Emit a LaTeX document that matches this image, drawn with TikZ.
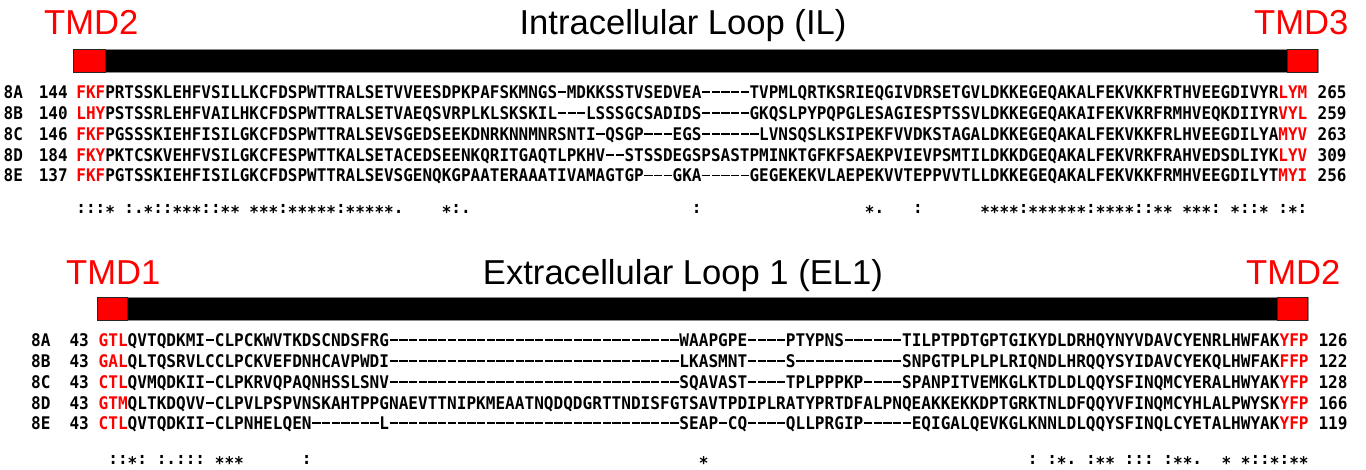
\documentclass[tikz,border=0pt]{standalone}
\usepackage{fontspec}
\setmainfont{Liberation Sans}
% residue font: narrow monospaced bold, one width per panel
\newfontfamily\seqfontIL[FakeStretch=0.918]{DejaVu Sans Mono Bold}
\newfontfamily\seqfontEL[FakeStretch=0.924]{DejaVu Sans Mono Bold}
\newcommand\seqsize{\fontsize{17.4pt}{20pt}\selectfont}
\newcommand\headsize{\fontsize{34.6pt}{40pt}\selectfont}
\newlength\alncolw

% Typeset an alignment string column by column:
%   -  gap (drawn as a full-cell dash),  *  lowered asterisk,  _  empty column
\ExplSyntaxOn
\cs_new_protected:Npn \aln_chars:n #1
  {
    \settowidth{\alncolw}{M}
    \tl_map_inline:nn {#1}
      {
        \str_case:nnF {##1}
          {
            {-} { \makebox[\alncolw][c]{\rule[0.32em]{0.86\alncolw}{0.11em}} }
            {*} { \raisebox{-0.27em}[0.5em][0pt]{*} }
            {_} { \hspace*{\alncolw} }
          }
          {##1}
      }
  }
\NewDocumentCommand \alnchars { m } { \aln_chars:n {#1} }
\ExplSyntaxOff
\newcommand\alnrow[3]{\textcolor{red}{\alnchars{#1}}\alnchars{#2}\textcolor{red}{\alnchars{#3}}}

\begin{document}
\begin{tikzpicture}[x=1pt,y=-1pt,
  seqrow/.style={inner sep=0pt, anchor=base west},
  rowlab/.style={inner sep=0pt, anchor=base},
  endnum/.style={inner sep=0pt, anchor=base west},
  ilfont/.style={font=\seqfontIL\seqsize},
  elfont/.style={font=\seqfontEL\seqsize},
  tmdlab/.style={inner sep=0pt, anchor=base west, text=red, font=\headsize},
  looptitle/.style={inner sep=0pt, anchor=base, font=\headsize},
  loopbar/.style={fill=black, draw=black!45, line width=0.8pt},
  tmdbox/.style={fill=red, draw=black!85, line width=0.8pt}]
\useasboundingbox (0,0) rectangle (1366,470);

% ---------------- Intracellular loop (IL) ----------------
\node[tmdlab] (tmdA) at (44,35) {TMD2};
\node[looptitle] (titleIL) at (683,35) {Intracellular Loop (IL)};
\node[tmdlab] (tmdB) at (1254,35) {TMD3};
\draw[loopbar] (73,49) rectangle (1318,72);
\draw[tmdbox] (73,49) rectangle (105,72);
\draw[tmdbox] (1287,49) rectangle (1317.5,72);

\begin{scope}[every node/.append style={ilfont}]
\node[rowlab] (ilAname) at (13.3,98.8) {8A};
\node[rowlab] (ilAstart) at (53.3,98.8) {144};
\node[seqrow] (ilAseq) at (76.2,98.8) {\alnrow{FKF}{PRTSSKLEHFVSILLKCFDSPWTTRALSETVVEESDPKPAFSKMNGS-MDKKSSTVSEDVEA-----TVPMLQRTKSRIEQGIVDRSETGVLDKKEGEQAKALFEKVKKFRTHVEEGDIVYR}{LYM}};
\node[endnum] (ilAend) at (1317.5,98.8) {265};

\node[rowlab] (ilBname) at (13.3,119.6) {8B};
\node[rowlab] (ilBstart) at (53.3,119.6) {140};
\node[seqrow] (ilBseq) at (76.2,119.6) {\alnrow{LHY}{PSTSSRLEHFVAILHKCFDSPWTTRALSETVAEQSVRPLKLSKSKIL---LSSSGCSADIDS-----GKQSLPYPQPGLESAGIESPTSSVLDKKEGEQAKAIFEKVKRFRMHVEQKDIIYR}{VYL}};
\node[endnum] (ilBend) at (1317.5,119.6) {259};

\node[rowlab] (ilCname) at (13.3,140.4) {8C};
\node[rowlab] (ilCstart) at (53.3,140.4) {146};
\node[seqrow] (ilCseq) at (76.2,140.4) {\alnrow{FKF}{PGSSSKIEHFISILGKCFDSPWTTRALSEVSGEDSEEKDNRKNNMNRSNTI-QSGP---EGS------LVNSQSLKSIPEKFVVDKSTAGALDKKEGEQAKALFEKVKKFRLHVEEGDILYA}{MYV}};
\node[endnum] (ilCend) at (1317.5,140.4) {263};

\node[rowlab] (ilDname) at (13.3,161.2) {8D};
\node[rowlab] (ilDstart) at (53.3,161.2) {184};
\node[seqrow] (ilDseq) at (76.2,161.2) {\alnrow{FKY}{PKTCSKVEHFVSILGKCFESPWTTKALSETACEDSEENKQRITGAQTLPKHV--STSSDEGSPSASTPMINKTGFKFSAEKPVIEVPSMTILDKKDGEQAKALFEKVRKFRAHVEDSDLIYK}{LYV}};
\node[endnum] (ilDend) at (1317.5,161.2) {309};

\node[rowlab] (ilEname) at (13.3,182) {8E};
\node[rowlab] (ilEstart) at (53.3,182) {137};
\node[seqrow] (ilEseq) at (76.2,182) {\alnrow{FKF}{PGTSSKIEHFISILGKCFDSPWTTRALSEVSGENQKGPAATERAAATIVAMAGTGP---GKA-----GEGEKEKVLAEPEKVVTEPPVVTLLDKKEGEQAKALFEKVKKFRMHVEEGDILYT}{MYI}};
\node[endnum] (ilEend) at (1317.5,182) {256};

\node[seqrow] (ilcons) at (76.2,214) {\alnchars{:::*_:.*::***::**_***:*****:*****.____*:._______________________:_________________*.___:______****:******:****::**_***:_*::*_:*:}};
\end{scope}

% ---------------- Extracellular loop 1 (EL1) ----------------
\node[tmdlab] (tmdC) at (66,285) {TMD1};
\node[looptitle] (titleEL) at (683,285) {Extracellular Loop 1 (EL1)};
\node[tmdlab] (tmdD) at (1246,284.5) {TMD2};
\draw[loopbar] (97,297.3) rectangle (1308.3,320);
\draw[tmdbox] (97,297.3) rectangle (127.7,320);
\draw[tmdbox] (1277.7,297.3) rectangle (1307.5,320);

\begin{scope}[every node/.append style={elfont}]
\node[rowlab] (elAname) at (40.8,346.7) {8A};
\node[rowlab] (elAstart) at (79.2,346.7) {43};
\node[seqrow] (elAseq) at (98.5,346.7) {\alnrow{GTL}{QVTQDKMI-CLPCKWVTKDSCNDSFRG------------------------------WAAPGPE----PTYPNS------TILPTPDTGPTGIKYDLDRHQYNYVDAVCYENRLHWFAK}{YFP}};
\node[endnum] (elAend) at (1318.3,346.7) {126};

\node[rowlab] (elBname) at (40.8,367.5) {8B};
\node[rowlab] (elBstart) at (79.2,367.5) {43};
\node[seqrow] (elBseq) at (98.5,367.5) {\alnrow{GAL}{QLTQSRVLCCLPCKVEFDNHCAVPWDI------------------------------LKASMNT----S-----------SNPGTPLPLPLRIQNDLHRQQYSYIDAVCYEKQLHWFAK}{FFP}};
\node[endnum] (elBend) at (1318.3,367.5) {122};

\node[rowlab] (elCname) at (40.8,388.3) {8C};
\node[rowlab] (elCstart) at (79.2,388.3) {43};
\node[seqrow] (elCseq) at (98.5,388.3) {\alnrow{CTL}{QVMQDKII-CLPKRVQPAQNHSSLSNV------------------------------SQAVAST----TPLPPPKP----SPANPITVEMKGLKTDLDLQQYSFINQMCYERALHWYAK}{YFP}};
\node[endnum] (elCend) at (1318.3,388.3) {128};

\node[rowlab] (elDname) at (40.8,409.1) {8D};
\node[rowlab] (elDstart) at (79.2,409.1) {43};
\node[seqrow] (elDseq) at (98.5,409.1) {\alnrow{GTM}{QLTKDQVV-CLPVLPSPVNSKAHTPPGNAEVTTNIPKMEAATNQDQDGRTTNDISFGTSAVTPDIPLRATYPRTDFALPNQEAKKEKKDPTGRKTNLDFQQYVFINQMCYHLALPWYSK}{YFP}};
\node[endnum] (elDend) at (1318.3,409.1) {166};

\node[rowlab] (elEname) at (40.8,429.9) {8E};
\node[rowlab] (elEstart) at (79.2,429.9) {43};
\node[seqrow] (elEseq) at (98.5,429.9) {\alnrow{CTL}{QVTQDKII-CLPNHELQEN-------L------------------------------SEAP-CQ----QLLPRGIP-----EQIGALQEVKGLKNNLDLQQYSFINQLCYETALHWYAK}{YFP}};
\node[endnum] (elEend) at (1318.3,429.9) {119};

\node[seqrow] (elcons) at (98.5,464.5) {\alnchars{_::*:_:.:::_***______:________________________________________*_________________________________:_:*._:**_:::_:**.__*_*::*:**}};
\end{scope}
\end{tikzpicture}
\end{document}
